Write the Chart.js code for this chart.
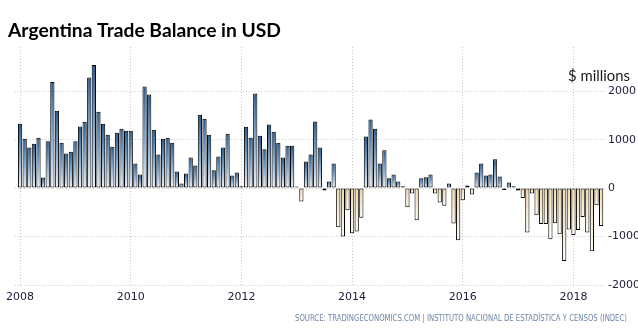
<!DOCTYPE html>
<html>
<head>
<meta charset="utf-8">
<script src="https://cdn.jsdelivr.net/npm/chart.js@4.4.0/dist/chart.umd.min.js"></script>
<style>
  html, body { margin: 0; padding: 0; background: #fff; }
  #wrap { width: 638px; height: 334px; position: relative; }
</style>
</head>
<body>
<div id="wrap"><canvas id="chart"></canvas></div>
<script>
// 月次貿易収支（百万USD）、2008年1月〜2018年7月
const START_YEAR = 2008;
const tradeBalance = [
  1330, 1020, 836, 918, 1041, 219, 966, 2192, 1596, 938, 712, 750,
  966, 1274, 1370, 2281, 2541, 1574, 1329, 1103, 856, 1144, 1226, 1185,
  1185, 507, 281, 2096, 1932, 1205, 692, 1021, 1041, 938, 342, 96,
  301, 630, 466, 1514, 1432, 1103, 370, 651, 836, 1123, 260, 322,
  41, 1267, 1041, 1952, 1082, 801, 1315, 1164, 938, 630, 877, 877,
  34, -274, 548, 692, 1377, 836, -48, 137, 507, -808, -1000, -459,
  -932, -897, -610, 1068, 1418, 1226, 507, 781, 205, 281, 137, 41,
  -397, -110, -664, 205, 226, 281, -110, -295, -363, 96, -733, -1075,
  -253, 55, -130, 322, 507, 260, 281, 596, 240, -41, 116, 41,
  -48, -205, -918, -110, -562, -740, -740, -1055, -726, -952, -1507, -856,
  -966, -863, -596, -918, -1301, -356, -781
];
const xTickValues = [2008, 2010, 2012, 2014, 2016, 2018];
const yTickValues = [-2000, -1000, 0, 1000, 2000];

const TITLE = 'Argentina Trade Balance in USD';
const UNIT = '$ millions';
const SOURCE = 'SOURCE: TRADINGECONOMICS.COM | INSTITUTO NACIONAL DE ESTADÍSTICA Y CENSOS (INDEC)';

const points = tradeBalance.map((v, i) => ({ x: START_YEAR + i / 12, y: v }));

/** 文字を指定幅に合わせて横方向に伸縮して描く */
const drawFitted = (ctx, text, font, color, x, baseline, width) => {
  ctx.save();
  ctx.font = font;
  ctx.fillStyle = color;
  ctx.textBaseline = 'alphabetic';
  ctx.textAlign = 'left';
  const w = ctx.measureText(text).width;
  ctx.translate(x, baseline);
  ctx.scale(width / w, 1);
  ctx.fillText(text, 0, 0);
  ctx.restore();
};

const textPlugin = {
  id: 'texts',
  afterDraw(chart) {
    const ctx = chart.ctx;
    drawFitted(ctx, TITLE, '700 18px Lato', '#000', 8, 37, 273);
    drawFitted(ctx, UNIT, '400 15px Lato', '#1a1a1a', 568, 81, 62);
    drawFitted(ctx, SOURCE, '400 9px "DejaVu Sans"', '#6f86a4', 295, 321, 332);
  }
};

const barFill = (c) => {
  const chart = c.chart;
  const y = chart.scales.y;
  if (c.type !== 'data' || !y) return '#4a7fb5';
  const v = c.raw.y;
  const top = y.getPixelForValue(v);
  const base = y.getPixelForValue(0);
  if (!isFinite(top) || !isFinite(base) || top === base) return v >= 0 ? '#4a7fb5' : '#f5deb0';
  if (v >= 0) {
    const g = chart.ctx.createLinearGradient(0, top, 0, base);
    g.addColorStop(0, '#2a5c90');
    g.addColorStop(0.5, '#7fa6cc');
    g.addColorStop(1, '#eef3f9');
    return g;
  }
  const g = chart.ctx.createLinearGradient(0, base, 0, top);
  g.addColorStop(0, '#f2d7a3');
  g.addColorStop(1, '#fffcf6');
  return g;
};

new Chart(document.getElementById('chart'), {
  type: 'bar',
  data: {
    datasets: [{
      data: points,
      backgroundColor: barFill,
      borderColor: '#000',
      borderWidth: 1,
      borderSkipped: false,
      barPercentage: 0.92,
      categoryPercentage: 1
    }]
  },
  options: {
    responsive: true,
    maintainAspectRatio: false,
    animation: false,
    layout: { padding: { left: 8, top: 47, right: 0, bottom: 0 } },
    plugins: {
      legend: { display: false },
      tooltip: { enabled: false },
      title: { display: false }
    },
    scales: {
      x: {
        type: 'linear',
        offset: false,
        min: 2007.905,
        max: 2018.57,
        afterBuildTicks: (s) => { s.ticks = xTickValues.map((v) => ({ value: v })); },
        afterFit: (s) => { s.height = 49; },
        grid: { color: '#c8c8c8', drawTicks: false, lineWidth: 1, offset: false },
        border: { display: false, dash: [1, 2] },
        ticks: {
          padding: 6,
          color: '#1c1c3a',
          font: { family: 'DejaVu Sans', size: 11 },
          maxRotation: 0,
          callback: (v) => String(v)
        }
      },
      y: {
        position: 'right',
        min: -2000,
        max: 2913,
        afterBuildTicks: (s) => { s.ticks = yTickValues.map((v) => ({ value: v })); },
        afterFit: (s) => { s.width = 33; },
        grid: { color: '#c8c8c8', drawTicks: false, lineWidth: 1 },
        border: { display: false, dash: [1, 2] },
        ticks: {
          padding: 3,
          color: '#1c1c3a',
          font: { family: 'DejaVu Sans', size: 11 },
          callback: (v) => String(v)
        }
      }
    }
  },
  plugins: [textPlugin]
});
</script>
</body>
</html>
